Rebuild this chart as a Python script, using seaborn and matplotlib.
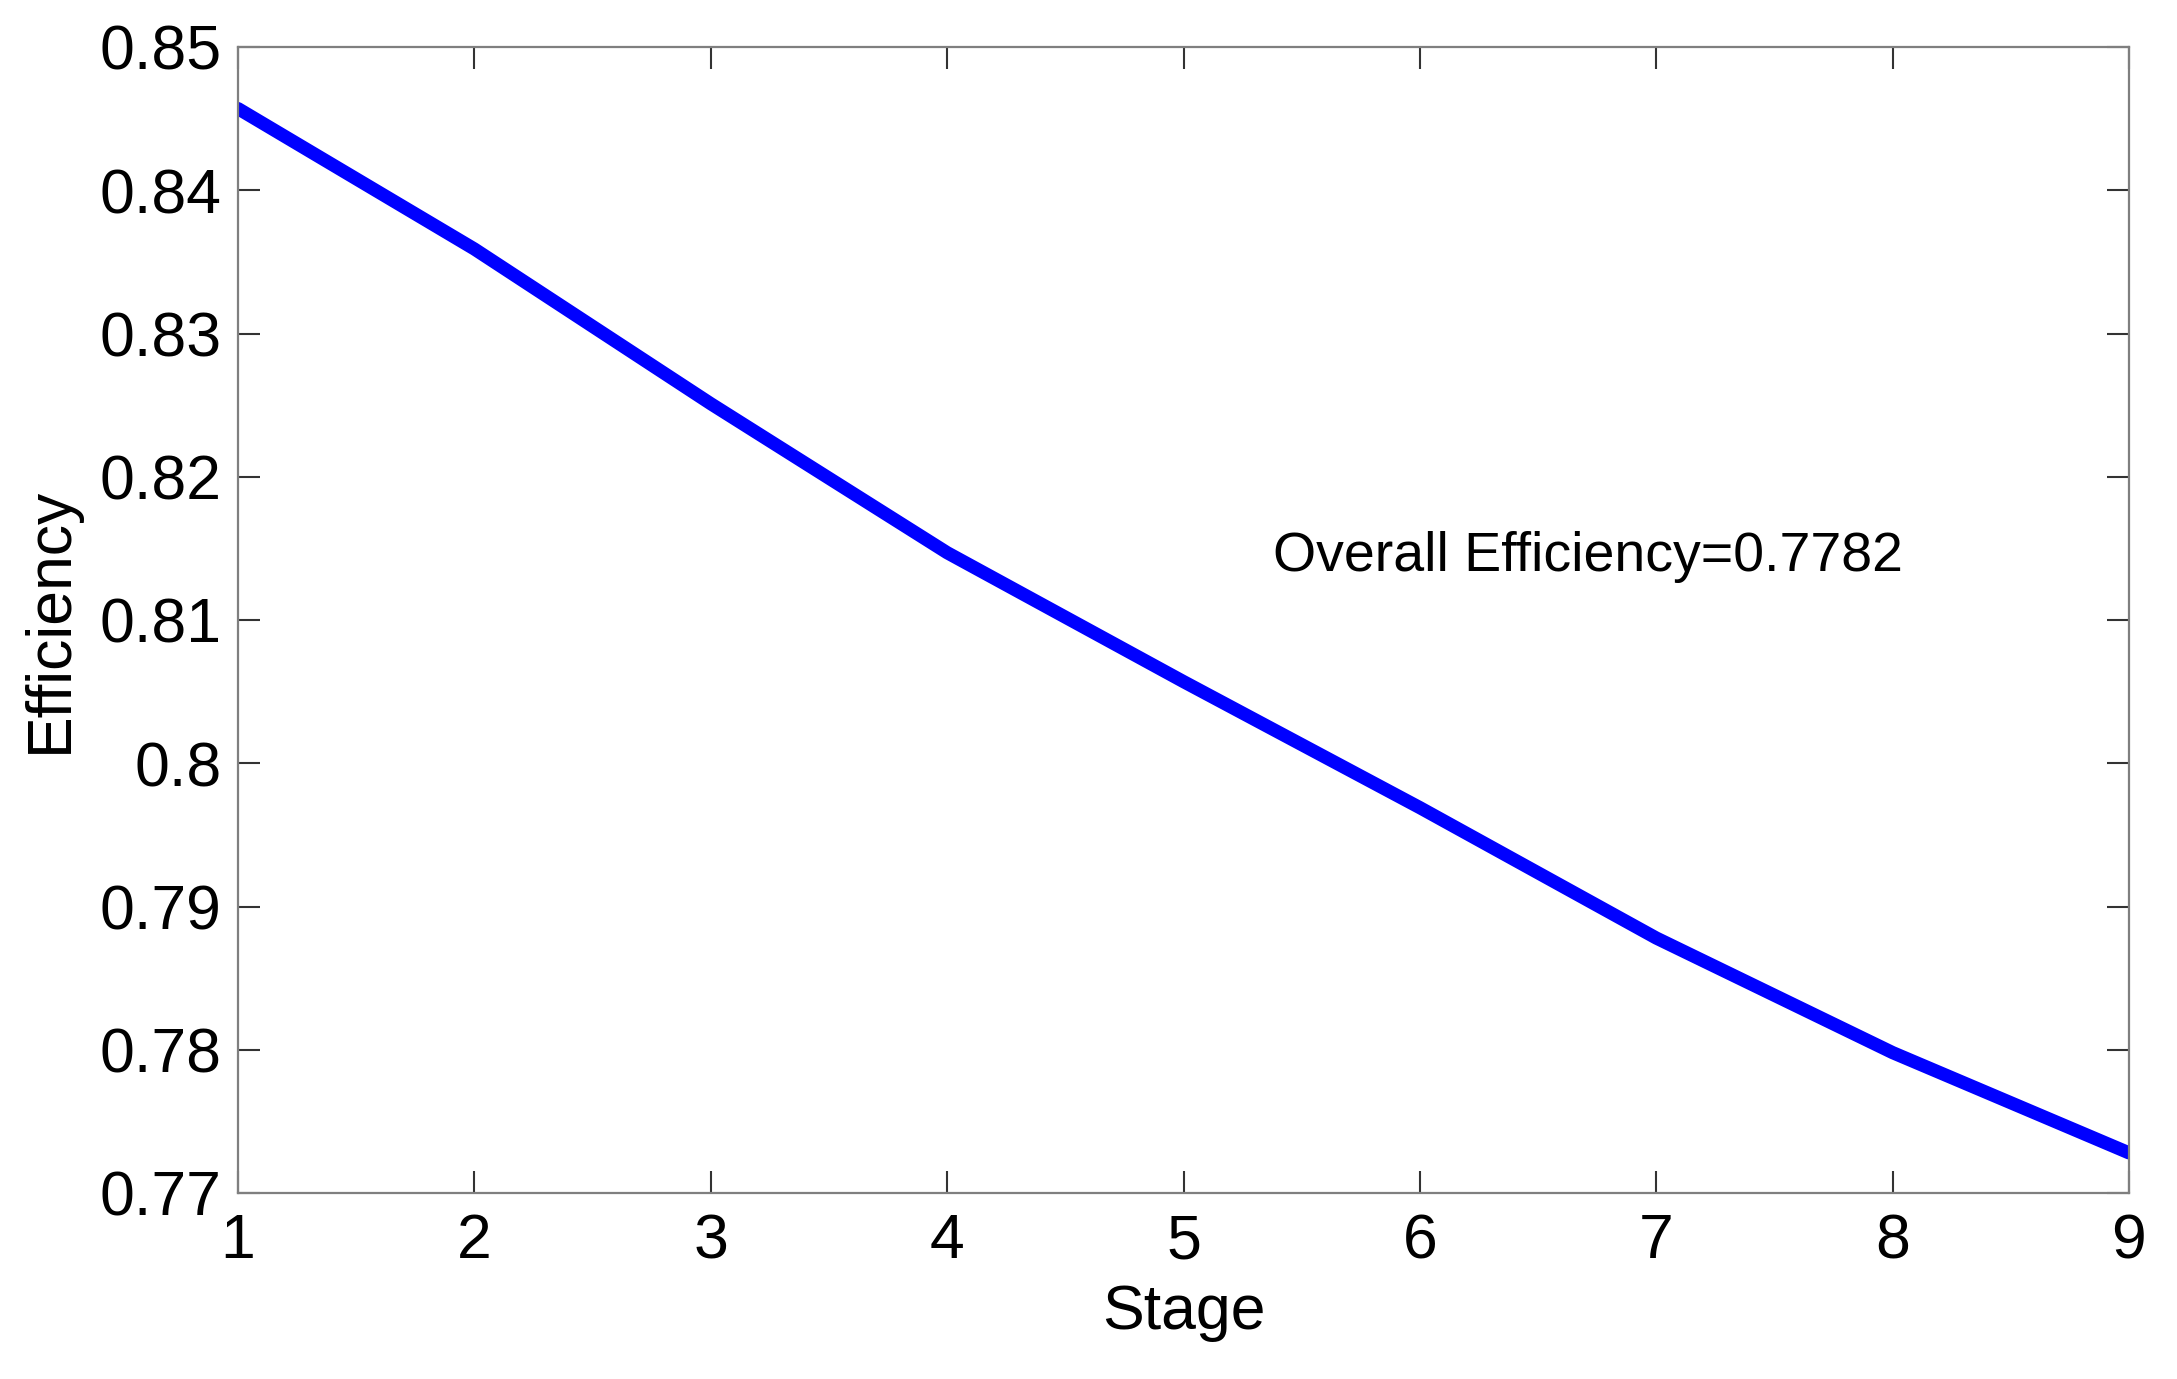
import matplotlib
matplotlib.use("Agg")
import matplotlib.pyplot as plt
import seaborn as sns
import pandas as pd

# values
stages = [1, 2, 3, 4, 5, 6, 7, 8, 9]
efficiency = [0.8457, 0.8359, 0.8251, 0.8147, 0.8057, 0.7969, 0.7878, 0.7798, 0.7728]
x_ticks = [1, 2, 3, 4, 5, 6, 7, 8, 9]
y_ticks = [0.77, 0.78, 0.79, 0.80, 0.81, 0.82, 0.83, 0.84, 0.85]
y_tick_labels = ["0.77", "0.78", "0.79", "0.8", "0.81", "0.82", "0.83", "0.84", "0.85"]
note = "Overall Efficiency=0.7782"

sns.set_style("white")
plt.rcParams['font.family'] = ['Liberation Sans', 'DejaVu Sans']
plt.rcParams['text.color'] = 'black'
plt.rcParams['axes.labelcolor'] = 'black'

df = pd.DataFrame({'Stage': stages, 'Efficiency': efficiency})

fig = plt.figure(figsize=(21.77, 13.79), dpi=100)
ax = fig.add_axes([238 / 2177, 1 - 1193 / 1379, (2129 - 238) / 2177, (1193 - 47) / 1379])

sns.lineplot(data=df, x='Stage', y='Efficiency', color='#0000ff', linewidth=9.5, ax=ax)

ax.set_xlim(1, 9)
ax.set_ylim(0.77, 0.85)
ax.set_xticks(x_ticks)
ax.set_yticks(y_ticks)
ax.set_yticklabels(y_tick_labels)

ax.tick_params(axis='both', direction='in', length=16, width=1.5, color='#333333',
               labelcolor='black', labelsize=45, top=True, right=True, bottom=True, left=True)
ax.tick_params(axis='x', pad=14)
ax.tick_params(axis='y', pad=12)
for s in ax.spines.values():
    s.set_visible(True)
    s.set_color('#7f7f7f')
    s.set_linewidth(1.6)

ax.set_xlabel('Stage', fontsize=45, labelpad=8, color='black')
ax.set_ylabel('Efficiency', fontsize=45, labelpad=14, color='black')

ax.text(5.38, 0.8144, note, fontsize=40, va='center', ha='left', color='black')

fig.savefig('out.png', dpi=100)
